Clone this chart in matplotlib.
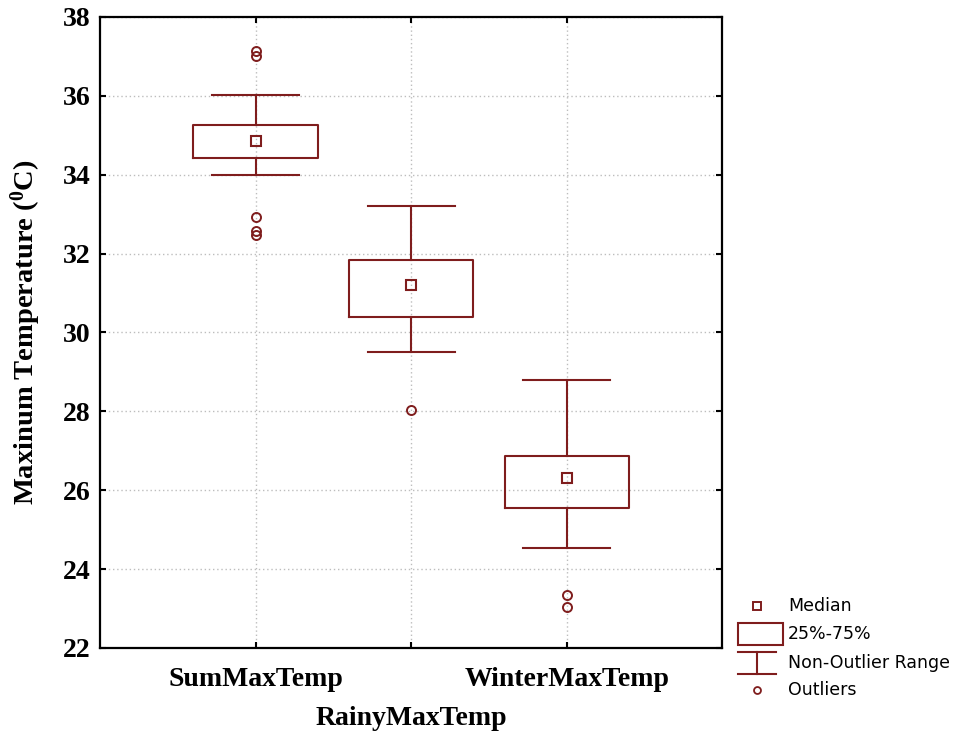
import matplotlib
matplotlib.use('Agg')
from matplotlib import pyplot as plt
from matplotlib.patches import Rectangle

# Maximum temperature by season (deg C)
seasons = ['SumMaxTemp', 'RainyMaxTemp', 'WinterMaxTemp']
medians = [34.85, 31.2, 26.3]
q1 = [34.43, 30.40, 25.54]
q3 = [35.26, 31.85, 26.88]
whisk_lo = [34.0, 29.5, 24.53]
whisk_hi = [36.02, 33.2, 28.8]
outliers = [[37.14, 37.02, 32.93, 32.57, 32.47], [28.04], [23.34, 23.03]]

color = '#7f1d1d'
serif = 'Liberation Serif'

plt.rcParams['mathtext.fontset'] = 'custom'
plt.rcParams['mathtext.rm'] = 'Liberation Serif:bold'
plt.rcParams['mathtext.it'] = 'Liberation Serif:bold'
plt.rcParams['mathtext.bf'] = 'Liberation Serif:bold'


def main():
	fig = plt.figure(figsize=(9.77, 7.35), dpi=100)
	ax = fig.add_axes([0.1024, 0.1184, 0.637, 0.8585])

	positions = [1, 2, 3]
	stats = []
	for name, med, lo, hi, wl, wh, fl in zip(seasons, medians, q1, q3, whisk_lo, whisk_hi, outliers):
		stats.append(dict(label=name, med=med, q1=lo, q3=hi, whislo=wl, whishi=wh, fliers=fl))

	line = dict(color=color, linewidth=1.5)
	ax.bxp(stats, positions=positions, widths=0.8, capwidths=0.56,
		boxprops=line, whiskerprops=line, capprops=line,
		medianprops=dict(linestyle='none'),
		flierprops=dict(marker='o', markersize=6.5, markerfacecolor='none',
			markeredgecolor=color, markeredgewidth=1.4),
		zorder=3)
	ax.plot(positions, medians, 's', markersize=7, markerfacecolor='none',
		markeredgecolor=color, markeredgewidth=1.5, zorder=4)

	ax.set_xlim(0, 4)
	ax.set_ylim(22, 38)
	ax.set_yticks(range(22, 39, 2))
	ax.set_xticks(positions)
	ax.set_xticklabels(seasons)

	ax.grid(True, linestyle=(0, (1, 2)), color='#bdbdbd', linewidth=1)
	ax.set_axisbelow(True)
	for s in ax.spines.values():
		s.set_linewidth(1.6)

	ax.tick_params(direction='in', length=4, width=1.5, top=True, right=True)
	ax.tick_params(axis='x', pad=14)
	ax.tick_params(axis='y', pad=7)
	for lab in ax.get_xticklabels() + ax.get_yticklabels():
		lab.set_fontfamily(serif)
		lab.set_fontweight('bold')
		lab.set_fontsize(20)
	# stagger the middle category label below the others
	ax.xaxis.get_major_ticks()[1].set_pad(42)

	ax.set_ylabel('Maxinum Temperature ($^{0}$C)', fontfamily=serif,
		fontweight='bold', fontsize=20.5, labelpad=14)

	# key drawn in pixel coordinates to the right of the plot
	key = fig.add_axes([0, 0, 1, 1])
	key.set_xlim(0, 977)
	key.set_ylim(735, 0)
	key.axis('off')
	kx = 757
	key.plot([kx], [606], 's', markersize=6, markerfacecolor='none',
		markeredgecolor=color, markeredgewidth=1.4)
	key.add_patch(Rectangle((738, 623), 45, 22, fill=False, edgecolor=color, linewidth=1.5))
	key.plot([738, 776], [652, 652], color=color, linewidth=1.5)
	key.plot([kx, kx], [652, 674], color=color, linewidth=1.5)
	key.plot([738, 776], [674, 674], color=color, linewidth=1.5)
	key.plot([kx], [690], 'o', markersize=5, markerfacecolor='none',
		markeredgecolor=color, markeredgewidth=1.3)
	texts = ['Median', '25%-75%', 'Non-Outlier Range', 'Outliers']
	for t, y in zip(texts, [606, 634, 663, 690]):
		key.text(788, y, t, fontsize=12.5, fontfamily='DejaVu Sans', va='center', ha='left')

	fig.savefig('out.png', dpi=100)


if __name__ == "__main__":
	main()
